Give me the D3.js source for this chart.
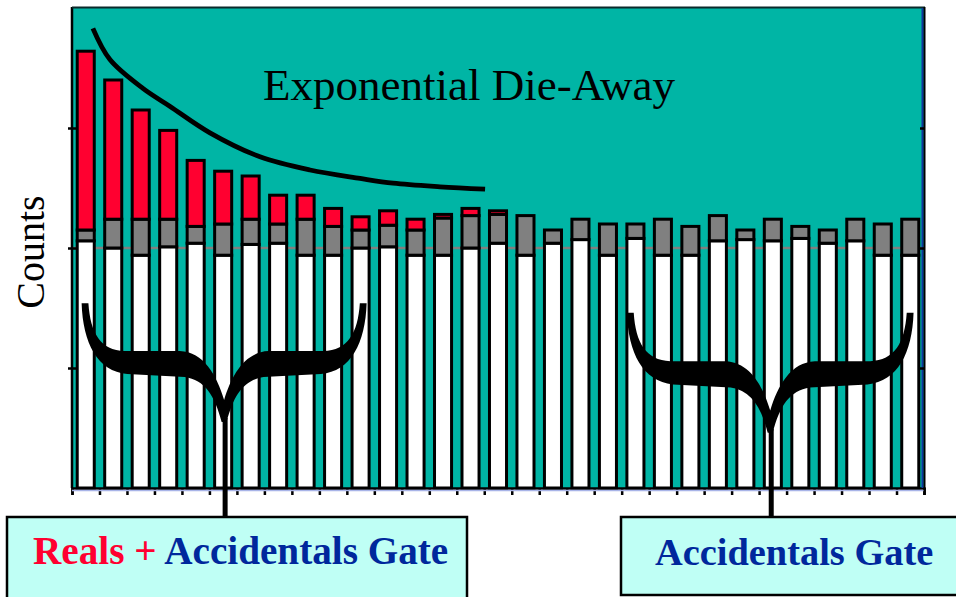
<!DOCTYPE html>
<html>
<head>
<meta charset="utf-8">
<script src="https://cdn.jsdelivr.net/npm/d3@7"></script>
<style>
  html, body { margin: 0; padding: 0; background: #fff; }
  svg { display: block; }
</style>
</head>
<body>
<script>
// time bins after the trigger
var bins = d3.range(1, 32);

// stacked counts per bin: accidental floor (white), its fluctuation (grey), reals (red)
var accidentals = [2.06,2.00,1.94,2.01,2.04,1.94,2.03,2.04,1.94,1.94,2.00,2.01,1.94,1.94,2.00,2.04,
                   1.94,2.04,2.07,1.94,2.08,1.94,1.94,2.06,2.07,2.06,2.08,2.04,2.06,1.94,1.94];
var fluctuation = [0.09,0.24,0.30,0.23,0.14,0.26,0.21,0.16,0.30,0.24,0.15,0.18,0.21,0.31,0.27,0.24,
                   0.33,0.11,0.17,0.26,0.12,0.30,0.24,0.21,0.08,0.18,0.10,0.11,0.18,0.26,0.30];
var reals = [1.49,1.16,0.91,0.74,0.55,0.44,0.36,0.24,0.20,0.15,0.11,0.12,0.09,0.03,0.06,0.03,
             0,0,0,0,0,0,0,0,0,0,0,0,0,0,0];

// hand drawn die-away curve (bin position, counts)
var dieAwayBin = [0.76,1.38,2.58,3.57,5.02,6.84,8.66,10.48,11.68,13.39,15.03];
var dieAwayCounts = [3.83,3.57,3.33,3.18,2.96,2.76,2.65,2.58,2.54,2.51,2.49];

var yTicks = [1, 2, 3];
var meanLevel = 2;

const width = 956, height = 597;
const margin = { left: 72, right: 32, top: 8, bottom: 109 };

const svg = d3.select("body").append("svg").attr("width", width).attr("height", height);

const x = d3.scaleBand()
    .domain(bins)
    .range([margin.left, width - margin.right])
    .paddingInner(0.38)
    .paddingOuter(0.19);

const xPos = d3.scaleLinear()
    .domain([0, bins.length])
    .range([margin.left, width - margin.right]);

const y = d3.scaleLinear()
    .domain([0, 4])
    .range([height - margin.bottom, margin.top]);

// plot background
svg.append("rect")
    .attr("x", margin.left).attr("y", margin.top)
    .attr("width", width - margin.right - margin.left)
    .attr("height", y(0) - margin.top)
    .attr("fill", "#00B5A5");

svg.append("line")
    .attr("x1", margin.left).attr("x2", width - margin.right)
    .attr("y1", y(meanLevel)).attr("y2", y(meanLevel))
    .attr("stroke", "#808080").attr("stroke-width", 2.5);

// bars
const table = bins.map(function (b, i) {
    return { bin: b, acc: accidentals[i], fluct: fluctuation[i], real: reals[i] };
});
const stack = d3.stack().keys(["acc", "fluct", "real"]);
const colors = { acc: "#ffffff", fluct: "#808080", real: "#FF0030" };

const layers = svg.append("g").selectAll("g")
    .data(stack(table))
    .join("g")
    .attr("fill", function (d) { return colors[d.key]; });

layers.selectAll("rect")
    .data(function (d) { return d.filter(function (s) { return s[1] - s[0] > 0; }); })
    .join("rect")
    .attr("x", function (d) { return x(d.data.bin); })
    .attr("width", x.bandwidth())
    .attr("y", function (d) { return y(d[1]); })
    .attr("height", function (d) { return y(d[0]) - y(d[1]); })
    .attr("stroke", "#000")
    .attr("stroke-width", 3);

// exponential die-away curve
const curve = d3.line()
    .x(function (d, i) { return xPos(dieAwayBin[i]); })
    .y(function (d) { return y(d); })
    .curve(d3.curveCatmullRom);

svg.append("path")
    .attr("d", curve(dieAwayCounts))
    .attr("fill", "none")
    .attr("stroke", "#000")
    .attr("stroke-width", 4.8)
    .attr("stroke-linecap", "butt");

svg.append("text")
    .attr("x", 263).attr("y", 100)
    .attr("font-family", "'Liberation Serif', 'Times New Roman', serif")
    .attr("font-size", 45)
    .attr("fill", "#000")
    .text("Exponential Die-Away");

// axes
svg.append("g")
    .attr("transform", `translate(0, ${y(0)})`)
    .call(d3.axisBottom(xPos).tickValues(d3.range(bins.length + 1)).tickSize(7).tickSizeOuter(7).tickFormat(""))
    .call(function (g) {
        g.selectAll("line").attr("stroke-width", 2.5);
        g.select(".domain").attr("stroke-width", 2.5);
    });

svg.append("line")
    .attr("x1", margin.left).attr("x2", width - margin.right)
    .attr("y1", y(0) + 2.5).attr("y2", y(0) + 2.5)
    .attr("stroke", "#A8B4E8").attr("stroke-width", 1.5);

svg.append("line")
    .attr("x1", margin.left).attr("x2", margin.left)
    .attr("y1", margin.top - 1).attr("y2", y(0))
    .attr("stroke", "#000").attr("stroke-width", 2.5);

svg.append("g")
    .attr("transform", `translate(${margin.left + 4}, 0)`)
    .call(d3.axisLeft(y).tickValues(yTicks).tickSize(8).tickFormat(""))
    .call(function (g) {
        g.select(".domain").remove();
        g.selectAll("line").attr("stroke-width", 2.5);
    });

svg.append("line")
    .attr("x1", margin.left).attr("x2", width - margin.right + 1)
    .attr("y1", margin.top - 0.5).attr("y2", margin.top - 0.5)
    .attr("stroke", "#0b2b2b").attr("stroke-width", 2);

svg.append("line")
    .attr("x1", width - margin.right - 1.5).attr("x2", width - margin.right - 1.5)
    .attr("y1", margin.top).attr("y2", y(0))
    .attr("stroke", "#1133A0").attr("stroke-width", 2);

svg.append("line")
    .attr("x1", width - margin.right + 0.5).attr("x2", width - margin.right + 0.5)
    .attr("y1", margin.top - 1).attr("y2", y(0) + 7)
    .attr("stroke", "#000").attr("stroke-width", 2);

svg.append("g")
    .attr("transform", `translate(${width - margin.right + 1}, 0)`)
    .call(d3.axisLeft(y).tickValues(yTicks).tickSize(5).tickFormat(""))
    .call(function (g) {
        g.select(".domain").remove();
        g.selectAll("line").attr("stroke-width", 2.5);
    });

svg.append("text")
    .attr("transform", `translate(44, 252) rotate(-90)`)
    .attr("text-anchor", "middle")
    .attr("font-family", "'Liberation Serif', 'Times New Roman', serif")
    .attr("font-size", 40)
    .text("Counts");

// gate braces
const gates = [
    { from: 0.35, to: 10.72, top: 1.54, tip: 0.55, boxX: 7, boxW: 460, boxH: 100 },
    { from: 20.19, to: 30.62, top: 1.46, tip: 0.46, boxX: 621, boxW: 400, boxH: 78 }
];
const boxTop = 517;

function bracePath(g) {
    const x0 = xPos(g.from), x1 = xPos(g.to);
    const cx = (x0 + x1) / 2, top = y(g.top);
    const sx = (x1 - x0) / 2 / 142.8, sy = (y(g.tip) - top) / 119;
    const P = function (dx, dy) { return [cx + dx * sx, top + dy * sy]; };
    const p = d3.path();
    const m = function (a) { p.moveTo.apply(p, P(a[0], a[1])); };
    const l = function (a) { p.lineTo.apply(p, P(a[0], a[1])); };
    const c = function (a, b, e) {
        p.bezierCurveTo.apply(p, P(a[0], a[1]).concat(P(b[0], b[1]), P(e[0], e[1])));
    };
    m([-142.8, 0]);
    c([-141.5, 40], [-127, 68], [-97, 71]);
    l([-39.5, 74]);
    c([-19.5, 77], [-9.5, 92], [-2.5, 119]);
    l([2.5, 119]);
    c([9.5, 92], [19.5, 77], [39.5, 74]);
    l([97, 71]);
    c([127, 68], [141.5, 40], [142.8, 0]);
    l([136, 0]);
    c([134, 30], [124, 47], [99.5, 48]);
    l([44.5, 48]);
    c([20.5, 49], [7.5, 72], [0, 97]);
    c([-7.5, 72], [-20.5, 49], [-44.5, 48]);
    l([-99.5, 48]);
    c([-124, 47], [-134, 30], [-136, 0]);
    p.closePath();
    return p.toString();
}

svg.append("g").selectAll("path")
    .data(gates)
    .join("path")
    .attr("d", bracePath)
    .attr("fill", "#000");

svg.append("g").selectAll("line")
    .data(gates)
    .join("line")
    .attr("x1", function (d) { return xPos((d.from + d.to) / 2) + 1; })
    .attr("x2", function (d) { return xPos((d.from + d.to) / 2) + 1; })
    .attr("y1", function (d) { return y(d.tip) - 4; })
    .attr("y2", boxTop)
    .attr("stroke", "#000")
    .attr("stroke-width", 5);

svg.append("g").selectAll("rect")
    .data(gates)
    .join("rect")
    .attr("x", function (d) { return d.boxX; })
    .attr("y", boxTop)
    .attr("width", function (d) { return d.boxW; })
    .attr("height", function (d) { return d.boxH; })
    .attr("fill", "#BFFFF5")
    .attr("stroke", "#000")
    .attr("stroke-width", 2.5);

const gateFont = "'Liberation Serif', 'Times New Roman', serif";

const t1 = svg.append("text")
    .attr("x", 33).attr("y", 564)
    .attr("font-family", gateFont)
    .attr("font-weight", "bold")
    .attr("font-size", 39.2);
t1.append("tspan").attr("fill", "#FF0030").text("Reals + ");
t1.append("tspan").attr("fill", "#00289C").text("Accidentals Gate");

svg.append("text")
    .attr("x", 655).attr("y", 565)
    .attr("font-family", gateFont)
    .attr("font-weight", "bold")
    .attr("font-size", 38.4)
    .attr("fill", "#00289C")
    .text("Accidentals Gate");
</script>
</body>
</html>
